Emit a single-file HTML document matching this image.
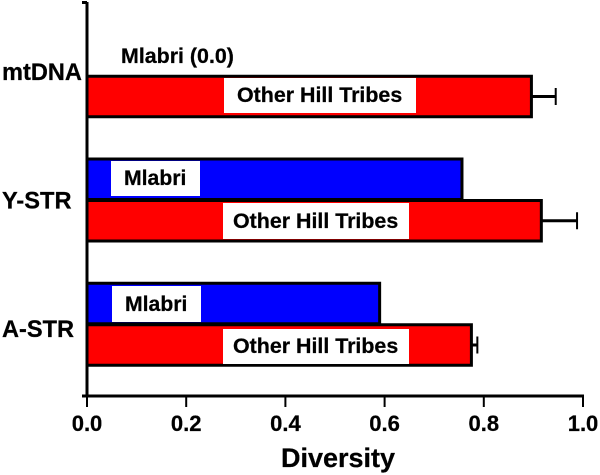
<!DOCTYPE html>
<html>
<head>
<meta charset="utf-8">
<title>Diversity chart</title>
<style>
html,body{margin:0;padding:0;background:#fff;width:600px;height:475px;overflow:hidden}
svg{display:block}
text{font-family:"Liberation Sans",Arial,sans-serif;font-weight:bold;fill:#000;stroke:#000;stroke-width:0.25px}
</style>
</head>
<body>
<svg id="chart" width="600" height="475" viewBox="0 0 600 475" xmlns="http://www.w3.org/2000/svg">
  <rect x="0" y="0" width="600" height="475" fill="#fff"></rect>
  <g id="marks"></g>
  <g id="axes"></g>
  <g>
    <text x="121" y="63" font-size="21.4">Mlabri (0.0)</text>
    <rect x="224" y="78" width="192" height="35" fill="#fff" stroke="none"></rect>
    <text x="237" y="102" font-size="21.4">Other Hill Tribes</text>
    <rect x="111" y="161" width="89" height="35" fill="#fff"></rect>
    <text x="124" y="185" font-size="21.2">Mlabri</text>
    <rect x="223" y="203" width="186" height="36" fill="#fff"></rect>
    <text x="233" y="228" font-size="21.4">Other Hill Tribes</text>
    <rect x="112" y="286" width="89" height="36" fill="#fff"></rect>
    <text x="125" y="311" font-size="21.2">Mlabri</text>
    <rect x="223" y="329" width="186" height="35" fill="#fff"></rect>
    <text x="233" y="353" font-size="21.4">Other Hill Tribes</text>
  </g>
</svg>
<script>
var categories = ['A-STR', 'Y-STR', 'mtDNA'];
var mlabriValues = [0.59, 0.756, 0];
var otherValues = [0.775, 0.916, 0.896];
var otherErrors = [0.012, 0.072, 0.049];
var xTickLabels = ['0.0', '0.2', '0.4', '0.6', '0.8', '1.0'];
var xAxisTitle = 'Diversity';

var NS = 'http://www.w3.org/2000/svg';
var marks = document.getElementById('marks');
var axes = document.getElementById('axes');

function xScale(v) { return 87 + v * 496; }
function otherCenter(i) { return 345 - 124.25 * i; }
function mlabriCenter(i) { return otherCenter(i) - 41.5; }
function categoryBaseline(i) { return 337 - 128.5 * i; }

function make(tag, attrs, parent) {
  var el = document.createElementNS(NS, tag);
  for (var k in attrs) { el.setAttribute(k, attrs[k]); }
  parent.appendChild(el);
  return el;
}

function drawBar(value, cy, fill) {
  return make('rect', {
    x: xScale(0), y: cy - 20.25, width: xScale(value) - xScale(0), height: 40.5,
    fill: fill, stroke: '#000', 'stroke-width': 3
  }, marks);
}

categories.forEach(function (name, i) {
  var cy = otherCenter(i);
  var top = otherValues[i] + otherErrors[i];

  var errLine = make('line', { x1: xScale(otherValues[i]), x2: xScale(top), y1: cy, y2: cy, stroke: '#000', 'stroke-width': 3 }, marks);
  
  

  var errCap = make('line', { x1: xScale(top), x2: xScale(top), y1: cy - 8.5, y2: cy + 8.5, stroke: '#000', 'stroke-width': 2 }, marks);
  
  

  if (mlabriValues[i] > 0) {
    var blue = drawBar(mlabriValues[i], mlabriCenter(i), '#0000ff');
    
    
  }

  var red = drawBar(otherValues[i], cy, '#ff0000');
  
  

  var label = make('text', { x: 2, y: categoryBaseline(i), 'font-size': 23.6 }, axes);
  label.textContent = name;
  
  
});

var yAxis = make('line', { x1: 87, x2: 87, y1: 2, y2: 397.5, stroke: '#000', 'stroke-width': 3 }, axes);



var yTopTick = make('line', { x1: 82, x2: 87, y1: 2.5, y2: 2.5, stroke: '#000', 'stroke-width': 3 }, axes);



var xAxis = make('line', { x1: 82, x2: 584, y1: 396, y2: 396, stroke: '#000', 'stroke-width': 3 }, axes);



xTickLabels.forEach(function (t) {
  var v = parseFloat(t);
  var tick = make('line', { x1: xScale(v), x2: xScale(v), y1: 396, y2: 407, stroke: '#000', 'stroke-width': 2 }, axes);
  
  

  var lab = make('text', { x: xScale(v), y: 431, 'font-size': 22, 'text-anchor': 'middle' }, axes);
  lab.textContent = t;
  
  
});

var title = make('text', { x: 338, y: 467, 'font-size': 27, 'text-anchor': 'middle' }, axes);
title.textContent = xAxisTitle;


</script>
</body>
</html>
